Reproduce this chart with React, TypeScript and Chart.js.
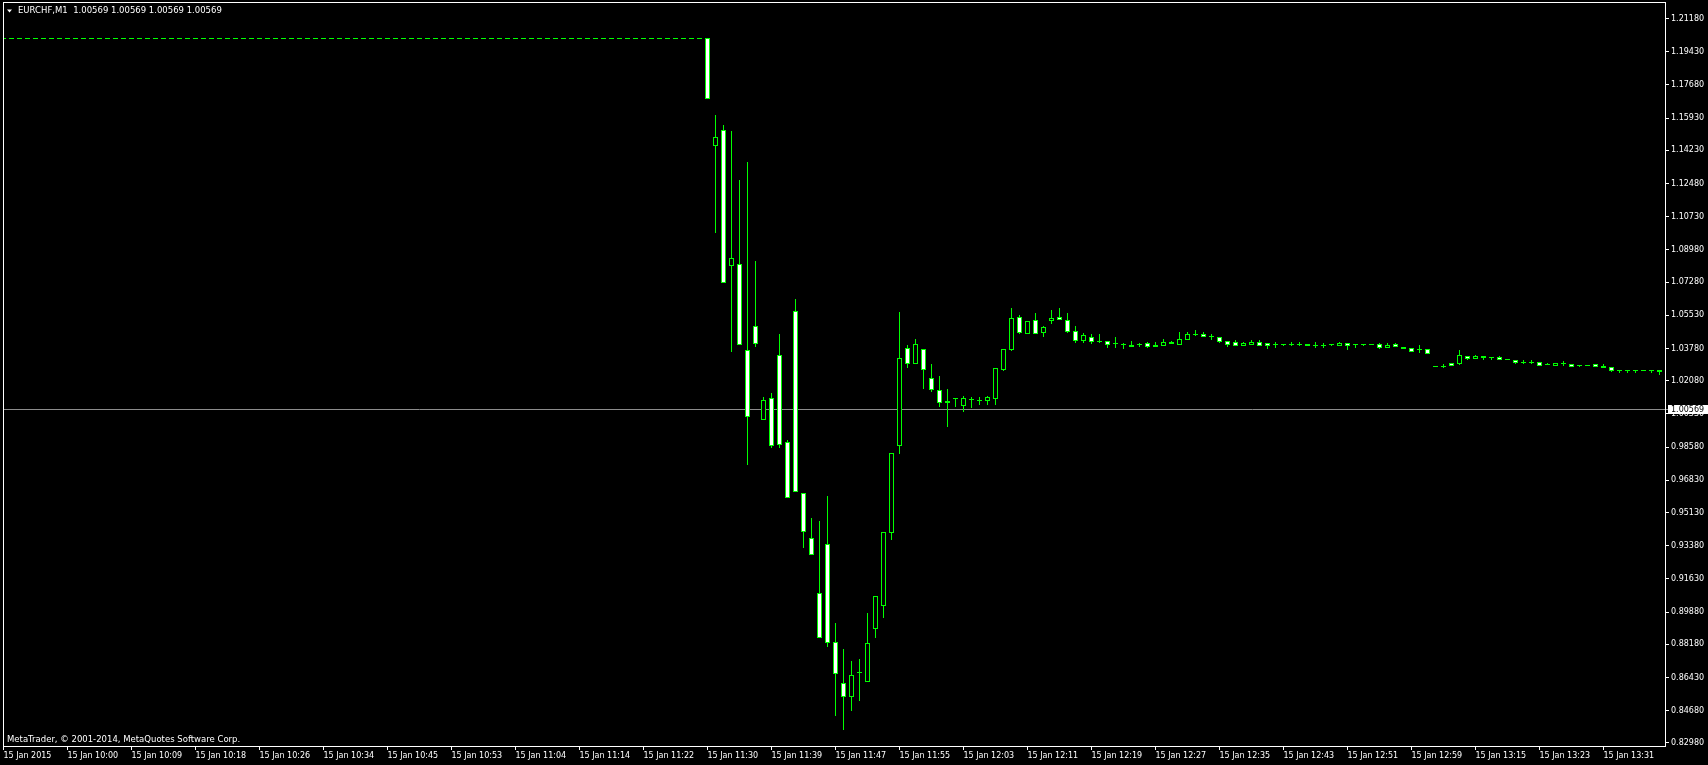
import React, { useEffect, useRef } from "react";
import { Chart, registerables } from "chart.js";

Chart.register(...registerables);

// ---------- text ----------
const TITLE_TEXT = "EURCHF,M1  1.00569 1.00569 1.00569 1.00569";
const COPYRIGHT_TEXT = "MetaTrader, © 2001-2014, MetaQuotes Software Corp.";
const BID = 1.00569;

// ---------- data: flat pegged bars before the SNB move (O=H=L=C) ----------
const PEG_PRICES = [
  1.2013, 1.2013, 1.2013, 1.2013, 1.2013, 1.2013, 1.2013, 1.2013, 1.2013, 1.2013, 1.2013,
  1.2013, 1.2013, 1.2013, 1.2013, 1.2013, 1.2013, 1.2013, 1.2013, 1.2013, 1.2013, 1.2013,
  1.2013, 1.2013, 1.2013, 1.2013, 1.2013, 1.2013, 1.2013, 1.2013, 1.2013, 1.2013, 1.2013,
  1.2013, 1.2013, 1.2013, 1.2013, 1.2013, 1.2013, 1.2013, 1.2013, 1.2013, 1.2013, 1.2013,
  1.2013, 1.2013, 1.2013, 1.2013, 1.2013, 1.2013, 1.2013, 1.2013, 1.2013, 1.2013, 1.2013,
  1.2013, 1.2013, 1.2013, 1.2013, 1.2013, 1.2013, 1.2013, 1.2013, 1.2013, 1.2013, 1.2013,
  1.2013, 1.2013, 1.2013, 1.2013, 1.2013, 1.2013, 1.2013, 1.2013, 1.2013, 1.2013, 1.2013,
  1.2013, 1.2013, 1.2013, 1.2013, 1.2013, 1.2013, 1.2013, 1.2013, 1.2013, 1.2013, 1.2013,
];

// ---------- data: M1 candles after the move ----------
const OPEN = [
  1.2013, 1.1447, 1.1528, 1.0814, 1.0822, 1.0368, 1.0495, 1.0004, 1.0115, 1.0342,
  0.9883, 1.0574, 0.9614, 0.9377, 0.9087, 0.9345, 0.8828, 0.8612, 0.8542, 0.8670,
  0.8621, 0.8902, 0.9021, 0.9406, 0.9865, 1.0379, 1.0300, 1.0374, 1.0221, 1.0157,
  1.0099, 1.0112, 1.0075, 1.0108, 1.0105, 1.0103, 1.0113, 1.0268, 1.0371, 1.0542,
  1.0458, 1.0526, 1.0461, 1.0524, 1.0539, 1.0524, 1.0466, 1.0421, 1.0437, 1.0414,
  1.0414, 1.0402, 1.0400, 1.0396, 1.0398, 1.0403, 1.0389, 1.0395, 1.0402, 1.0398,
  1.0426, 1.0453, 1.0454, 1.0440, 1.0437, 1.0416, 1.0407, 1.0393, 1.0398, 1.0407,
  1.0402, 1.0398, 1.0398, 1.0400, 1.0400, 1.0400, 1.0396, 1.0395, 1.0398, 1.0393,
  1.0402, 1.0400, 1.0400, 1.0400, 1.0398, 1.0382, 1.0398, 1.0385, 1.0380, 1.0374,
  1.0375, 1.0284, 1.0285, 1.0300, 1.0298, 1.0337, 1.0326, 1.0337, 1.0331, 1.0329,
  1.0321, 1.0316, 1.0305, 1.0305, 1.0305, 1.0292, 1.0289, 1.0300, 1.0296, 1.0289,
  1.0289, 1.0291, 1.0285, 1.0279, 1.0263, 1.0263, 1.0263, 1.0263, 1.0263, 1.0264,
];
const HIGH = [
  1.2013, 1.1609, 1.1556, 1.1520, 1.1266, 1.1361, 1.0839, 1.0121, 1.0138, 1.0454,
  0.9894, 1.0634, 0.9614, 0.9479, 0.9463, 0.9595, 0.8925, 0.8788, 0.8725, 0.8740,
  0.8978, 0.9071, 0.9409, 0.9825, 1.0570, 1.0391, 1.0423, 1.0374, 1.0296, 1.0228,
  1.0159, 1.0112, 1.0127, 1.0121, 1.0121, 1.0122, 1.0273, 1.0375, 1.0590, 1.0553,
  1.0521, 1.0563, 1.0496, 1.0576, 1.0590, 1.0560, 1.0496, 1.0458, 1.0453, 1.0449,
  1.0414, 1.0437, 1.0405, 1.0416, 1.0405, 1.0410, 1.0410, 1.0426, 1.0416, 1.0460,
  1.0461, 1.0474, 1.0460, 1.0454, 1.0437, 1.0416, 1.0418, 1.0412, 1.0418, 1.0418,
  1.0402, 1.0412, 1.0398, 1.0407, 1.0407, 1.0400, 1.0407, 1.0402, 1.0398, 1.0408,
  1.0402, 1.0400, 1.0400, 1.0400, 1.0403, 1.0403, 1.0403, 1.0385, 1.0380, 1.0391,
  1.0375, 1.0284, 1.0294, 1.0300, 1.0365, 1.0337, 1.0343, 1.0337, 1.0331, 1.0338,
  1.0321, 1.0316, 1.0312, 1.0312, 1.0305, 1.0298, 1.0301, 1.0308, 1.0296, 1.0289,
  1.0289, 1.0291, 1.0292, 1.0279, 1.0263, 1.0263, 1.0263, 1.0263, 1.0263, 1.0264,
];
const LOW = [
  1.1695, 1.0988, 1.0725, 1.0361, 1.0400, 0.9765, 1.0387, 1.0004, 0.9855, 0.9855,
  0.9593, 0.9625, 0.9327, 0.9293, 0.8855, 0.8805, 0.8445, 0.8366, 0.8471, 0.8524,
  0.8621, 0.8853, 0.8958, 0.9373, 0.9823, 1.0277, 1.0300, 1.0166, 1.0150, 1.0071,
  0.9965, 1.0071, 1.0043, 1.0068, 1.0080, 1.0081, 1.0081, 1.0264, 1.0366, 1.0456,
  1.0455, 1.0456, 1.0440, 1.0511, 1.0530, 1.0463, 1.0412, 1.0408, 1.0403, 1.0407,
  1.0382, 1.0382, 1.0377, 1.0389, 1.0387, 1.0382, 1.0389, 1.0395, 1.0402, 1.0398,
  1.0426, 1.0445, 1.0440, 1.0424, 1.0408, 1.0387, 1.0393, 1.0393, 1.0398, 1.0393,
  1.0380, 1.0382, 1.0391, 1.0391, 1.0391, 1.0393, 1.0385, 1.0385, 1.0391, 1.0393,
  1.0371, 1.0385, 1.0391, 1.0400, 1.0379, 1.0382, 1.0387, 1.0377, 1.0361, 1.0359,
  1.0350, 1.0284, 1.0275, 1.0287, 1.0292, 1.0322, 1.0326, 1.0322, 1.0322, 1.0319,
  1.0321, 1.0298, 1.0298, 1.0298, 1.0289, 1.0292, 1.0289, 1.0287, 1.0282, 1.0284,
  1.0289, 1.0282, 1.0279, 1.0255, 1.0250, 1.0250, 1.0250, 1.0263, 1.0252, 1.0240,
];
const CLOSE = [
  1.1695, 1.1492, 1.0725, 1.0855, 1.0400, 1.0018, 1.0405, 1.0105, 0.9867, 0.9873,
  0.9593, 0.9625, 0.9412, 0.9293, 0.8855, 0.8828, 0.8665, 0.8542, 0.8654, 0.8670,
  0.8823, 0.9071, 0.9409, 0.9825, 1.0326, 1.0300, 1.0400, 1.0268, 1.0163, 1.0094,
  1.0095, 1.0112, 1.0112, 1.0108, 1.0105, 1.0117, 1.0273, 1.0370, 1.0537, 1.0461,
  1.0521, 1.0456, 1.0486, 1.0537, 1.0530, 1.0469, 1.0421, 1.0447, 1.0416, 1.0414,
  1.0400, 1.0402, 1.0400, 1.0389, 1.0398, 1.0389, 1.0396, 1.0410, 1.0408, 1.0424,
  1.0453, 1.0453, 1.0440, 1.0440, 1.0414, 1.0400, 1.0393, 1.0403, 1.0407, 1.0393,
  1.0393, 1.0398, 1.0398, 1.0400, 1.0400, 1.0393, 1.0396, 1.0395, 1.0398, 1.0402,
  1.0393, 1.0400, 1.0400, 1.0400, 1.0385, 1.0396, 1.0387, 1.0377, 1.0361, 1.0374,
  1.0350, 1.0284, 1.0285, 1.0287, 1.0342, 1.0326, 1.0334, 1.0328, 1.0331, 1.0319,
  1.0321, 1.0303, 1.0305, 1.0305, 1.0289, 1.0292, 1.0301, 1.0300, 1.0285, 1.0289,
  1.0289, 1.0282, 1.0279, 1.0261, 1.0263, 1.0263, 1.0263, 1.0263, 1.0263, 1.0255,
];

// ---------- axes ----------
const Y_TICKS = [
  1.2118, 1.1943, 1.1768, 1.1593, 1.1423, 1.1248, 1.1073, 1.0898, 1.0728, 1.0553, 1.0378, 1.0208,
  1.0033, 0.9858, 0.9683, 0.9513, 0.9338, 0.9163, 0.8988, 0.8818, 0.8643, 0.8468, 0.8298,
];
const X_LABELS = [
  "15 Jan 2015", "15 Jan 10:00", "15 Jan 10:09", "15 Jan 10:18", "15 Jan 10:26", "15 Jan 10:34",
  "15 Jan 10:45", "15 Jan 10:53", "15 Jan 11:04", "15 Jan 11:14", "15 Jan 11:22", "15 Jan 11:30",
  "15 Jan 11:39", "15 Jan 11:47", "15 Jan 11:55", "15 Jan 12:03", "15 Jan 12:11", "15 Jan 12:19",
  "15 Jan 12:27", "15 Jan 12:35", "15 Jan 12:43", "15 Jan 12:51", "15 Jan 12:59", "15 Jan 13:15",
  "15 Jan 13:23", "15 Jan 13:31",
];
const BARS_PER_LABEL = 8;
const Y_MIN = 0.82763;
const Y_MAX = 1.2205;
const X_MIN = -0.0625;
const X_MAX = 207.8125;

// ---------- style ----------
const GREEN = "#00ff00";
const WHITE = "#ffffff";
const BLACK = "#000000";
const BID_GREY = "#8c8c8c";
const FONT_FAMILY = "'DejaVu Sans', Verdana, sans-serif";
const W = 1708;
const H = 765;

const ALL_O = [...PEG_PRICES, ...OPEN];
const ALL_H = [...PEG_PRICES, ...HIGH];
const ALL_L = [...PEG_PRICES, ...LOW];
const ALL_C = [...PEG_PRICES, ...CLOSE];

// snap bar ends to whole pixel rows (MT4-style crisp candles), positions come from the y scale
const snapPlugin = {
  id: "snapCandles",
  afterDatasetsUpdate(chart: any) {
    const ys = chart.scales.y;
    const snap = (dsIndex: number, a: number[], b: number[]) => {
      const meta = chart.getDatasetMeta(dsIndex);
      meta.data.forEach((el: any, i: number) => {
        const pa = ys.getPixelForValue(a[i]);
        const pb = ys.getPixelForValue(b[i]);
        const top = Math.floor(Math.min(pa, pb));
        const bot = Math.floor(Math.max(pa, pb)) + 1;
        el.y = top;
        el.base = bot;
        el.height = bot - top;
      });
    };
    snap(0, ALL_L, ALL_H);
    snap(1, ALL_O, ALL_C);
  },
};

const mt4Plugin = {
  id: "mt4Decor",
  beforeDatasetsDraw(chart: any) {
    const { ctx, chartArea } = chart;
    const y = Math.round(chart.scales.y.getPixelForValue(BID)) + 0.5;
    ctx.save();
    ctx.strokeStyle = BID_GREY;
    ctx.lineWidth = 1;
    ctx.beginPath();
    ctx.moveTo(chartArea.left, y);
    ctx.lineTo(chartArea.right + 3, y);
    ctx.stroke();
    ctx.restore();
  },
  afterDraw(chart: any) {
    const { ctx, chartArea } = chart;
    ctx.save();
    // frame
    ctx.strokeStyle = WHITE;
    ctx.lineWidth = 1;
    ctx.strokeRect(
      chartArea.left + 0.5,
      chartArea.top + 0.5,
      chartArea.right - chartArea.left - 1,
      chartArea.bottom - chartArea.top - 1
    );
    // title triangle + text
    ctx.fillStyle = WHITE;
    ctx.beginPath();
    ctx.moveTo(chartArea.left + 4, chartArea.top + 7.5);
    ctx.lineTo(chartArea.left + 9, chartArea.top + 7.5);
    ctx.lineTo(chartArea.left + 6.5, chartArea.top + 10.5);
    ctx.closePath();
    ctx.fill();
    ctx.font = `8.5px ${FONT_FAMILY}`;
    ctx.textBaseline = "middle";
    ctx.textAlign = "left";
    ctx.fillText(TITLE_TEXT, chartArea.left + 15, chartArea.top + 9);
    ctx.font = `8.5px ${FONT_FAMILY}`;
    ctx.fillText(COPYRIGHT_TEXT, chartArea.left + 4, chartArea.bottom - 7);
    // bid label box
    const y = Math.round(chart.scales.y.getPixelForValue(BID));
    ctx.fillStyle = WHITE;
    ctx.fillRect(chartArea.right + 2, y - 4, W - chartArea.right - 2, 9);
    ctx.fillStyle = BLACK;
    ctx.font = `8px ${FONT_FAMILY}`;
    ctx.fillText(BID.toFixed(5), chartArea.right + 5, y + 0.5);
    ctx.restore();
  },
};

export default function App() {
  const canvasRef = useRef<HTMLCanvasElement | null>(null);

  useEffect(() => {
    document.body.style.margin = "0";
    document.body.style.background = BLACK;
    const canvas = canvasRef.current;
    if (!canvas) return;

    const tickFont = { family: FONT_FAMILY, size: 8 };

    const chart = new Chart(canvas, {
      type: "bar",
      data: {
        datasets: [
          {
            label: "wick",
            data: ALL_H.map((h, i) => ({ x: i, y: [ALL_L[i], h] })) as any,
            backgroundColor: GREEN,
            borderWidth: 0,
            barThickness: 1,
            grouped: false,
            inflateAmount: 0,
            clip: 0,
            order: 2,
          } as any,
          {
            label: "body",
            data: ALL_O.map((o, i) => ({ x: i, y: [o, ALL_C[i]] })) as any,
            backgroundColor: (c: any) =>
              ALL_C[c.dataIndex] < ALL_O[c.dataIndex] ? WHITE : BLACK,
            borderColor: GREEN,
            borderWidth: 1,
            borderSkipped: false,
            barThickness: 5,
            minBarLength: 1,
            grouped: false,
            inflateAmount: 0,
            clip: 0,
            order: 1,
          } as any,
        ],
      },
      options: {
        animation: false,
        responsive: false,
        maintainAspectRatio: false,
        devicePixelRatio: 1,
        events: [],
        layout: { padding: { left: 3, top: 2, right: 0, bottom: 0 } },
        plugins: {
          legend: { display: false },
          tooltip: { enabled: false },
          title: { display: false },
        },
        scales: {
          x: {
            type: "linear",
            position: "bottom",
            min: X_MIN,
            max: X_MAX,
            offset: false,
            border: { display: false },
            grid: {
              drawOnChartArea: false,
              drawTicks: true,
              tickLength: 3,
              color: WHITE,
              offset: false,
            },
            ticks: {
              align: "start",
              maxRotation: 0,
              minRotation: 0,
              autoSkip: false,
              padding: 1,
              color: WHITE,
              font: tickFont,
              callback: (_v: any, i: number) => X_LABELS[i],
            },
            afterBuildTicks: (s: any) => {
              s.ticks = X_LABELS.map((_, k) => ({ value: k * BARS_PER_LABEL }));
            },
            afterFit: (s: any) => {
              s.height = 18;
              s.paddingLeft = 0;
              s.paddingRight = 0;
            },
          } as any,
          y: {
            type: "linear",
            position: "right",
            min: Y_MIN,
            max: Y_MAX,
            beginAtZero: false,
            border: { display: false },
            grid: {
              drawOnChartArea: false,
              drawTicks: true,
              tickLength: 3,
              color: WHITE,
            },
            ticks: {
              autoSkip: false,
              padding: 2,
              color: WHITE,
              font: tickFont,
              callback: (v: any) => Number(v).toFixed(5),
            },
            afterBuildTicks: (s: any) => {
              s.ticks = Y_TICKS.map((v) => ({ value: v }));
            },
            afterFit: (s: any) => {
              s.width = 42;
              s.paddingTop = 0;
              s.paddingBottom = 0;
            },
          } as any,
        },
      },
      plugins: [snapPlugin, mt4Plugin],
    });

    return () => chart.destroy();
  }, []);

  return (
    <div
      style={{
        position: "fixed",
        left: 0,
        top: 0,
        width: W,
        height: H,
        background: BLACK,
        overflow: "hidden",
      }}
    >
      <canvas ref={canvasRef} width={W} height={H} style={{ display: "block", width: W, height: H }} />
    </div>
  );
}
